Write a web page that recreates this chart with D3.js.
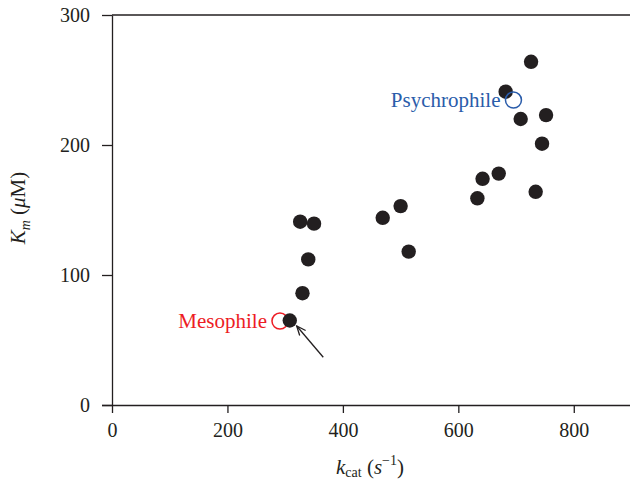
<!DOCTYPE html>
<html>
<head>
<meta charset="utf-8">
<script src="https://cdn.jsdelivr.net/npm/d3@7"></script>
<style>
  body { margin: 0; background: #fff; }
  svg { display: block; }
  text { font-family: "Liberation Serif", "Times New Roman", serif; }
</style>
</head>
<body>
<svg id="chart" width="630" height="483"></svg>
<script>
// ---- data ----
const kcat = [308, 330, 340, 326, 350, 469, 500, 514, 633, 642, 670, 682, 708, 726, 734, 745, 752];
const km   = [65, 86, 112, 141, 139.5, 144, 153, 118, 159, 174, 178, 241, 220, 264, 164, 201, 223];
const highlightNames = ["Mesophile", "Psychrophile"];
const highlightKcat = [291, 695.5];
const highlightKm = [64.6, 234.6];
const xTicks = [0, 200, 400, 600, 800];
const yTicks = [0, 100, 200, 300];
const arrowFrom = [366, 36.7];
const arrowTo = [320, 60.8];

// ---- layout ----
const svg = d3.select("#chart");
const x = d3.scaleLinear().domain([0, 900]).range([112, 631.5]);
const y = d3.scaleLinear().domain([0, 300]).range([405, 15]);
const ink = "#231f20";
const colors = ["#ed1c24", "#2a5caa"];

// frame top line
svg.append("line")
  .attr("x1", x(0)).attr("x2", x(900))
  .attr("y1", y(300)).attr("y2", y(300))
  .attr("stroke", ink).attr("stroke-width", 1.3);

// axes
const xAxis = svg.append("g").attr("transform", `translate(0,${y(0)})`)
  .call(d3.axisBottom(x).tickValues(xTicks).tickSize(8).tickSizeOuter(0).tickPadding(10).tickFormat(d3.format("d")));
const yAxis = svg.append("g").attr("transform", `translate(${x(0)},0)`)
  .call(d3.axisLeft(y).tickValues(yTicks).tickSize(10).tickSizeOuter(0).tickPadding(12).tickFormat(d3.format("d")));
[xAxis, yAxis].forEach(g => {
  g.select(".domain").attr("stroke", ink).attr("stroke-width", 1.3);
  g.selectAll(".tick line").attr("stroke", ink).attr("stroke-width", 1.3);
  g.selectAll(".tick text").attr("fill", ink).style("font-size", "20px")
    .style("font-family", "'Liberation Serif', serif");
});
xAxis.select(".domain").attr("d", `M${x(0) - 10},0.5H${x(900)}`);

// mesophile open circle (under dots)
svg.append("circle")
  .attr("cx", x(highlightKcat[0])).attr("cy", y(highlightKm[0])).attr("r", 8)
  .attr("fill", "none").attr("stroke", colors[0]).attr("stroke-width", 1.5);

// data dots
svg.append("g").selectAll("circle").data(kcat).join("circle")
  .attr("cx", (d) => x(d))
  .attr("cy", (d, i) => y(km[i]))
  .attr("r", 7.2)
  .attr("fill", ink);

// psychrophile open circle (over dots)
svg.append("circle")
  .attr("cx", x(highlightKcat[1])).attr("cy", y(highlightKm[1])).attr("r", 8)
  .attr("fill", "none").attr("stroke", colors[1]).attr("stroke-width", 1.5);

// labels
highlightNames.forEach((name, i) => {
  svg.append("text")
    .attr("x", x(highlightKcat[i]) - 13)
    .attr("y", y(highlightKm[i]) + 6.5)
    .attr("text-anchor", "end")
    .attr("fill", colors[i])
    .style("font-size", "21px")
    .text(name);
});

// arrow
const ax1 = x(arrowFrom[0]), ay1 = y(arrowFrom[1]);
const ax2 = x(arrowTo[0]), ay2 = y(arrowTo[1]);
svg.append("line").attr("x1", ax1).attr("y1", ay1).attr("x2", ax2).attr("y2", ay2)
  .attr("stroke", ink).attr("stroke-width", 1.3);
const ang = Math.atan2(ay1 - ay2, ax1 - ax2);
const hl = 10, spread = 0.4;
svg.append("path")
  .attr("d", `M${ax2 + hl * Math.cos(ang - spread)},${ay2 + hl * Math.sin(ang - spread)}L${ax2},${ay2}L${ax2 + hl * Math.cos(ang + spread)},${ay2 + hl * Math.sin(ang + spread)}`)
  .attr("fill", "none").attr("stroke", ink).attr("stroke-width", 1.3);

// axis titles
const xt = svg.append("text").attr("x", 370).attr("y", 474).attr("text-anchor", "middle")
  .attr("fill", ink).style("font-size", "21px");
xt.append("tspan").style("font-style", "italic").text("k");
xt.append("tspan").attr("dy", 3).style("font-size", "14px").text("cat");
xt.append("tspan").attr("dy", -3).text(" (");
xt.append("tspan").style("font-style", "italic").text("s");
xt.append("tspan").attr("dy", -9).style("font-size", "14px").text("−1");
xt.append("tspan").attr("dy", 9).text(")");

const yt = svg.append("text").attr("transform", "translate(25,208) rotate(-90)")
  .attr("text-anchor", "middle").attr("fill", ink).style("font-size", "21px");
yt.append("tspan").style("font-style", "italic").text("K");
yt.append("tspan").attr("dy", 5).style("font-size", "14px").style("font-style", "italic").text("m");
yt.append("tspan").attr("dy", -5).text(" (");
yt.append("tspan").style("font-style", "italic").text("μ");
yt.append("tspan").text("M)");
</script>
</body>
</html>
